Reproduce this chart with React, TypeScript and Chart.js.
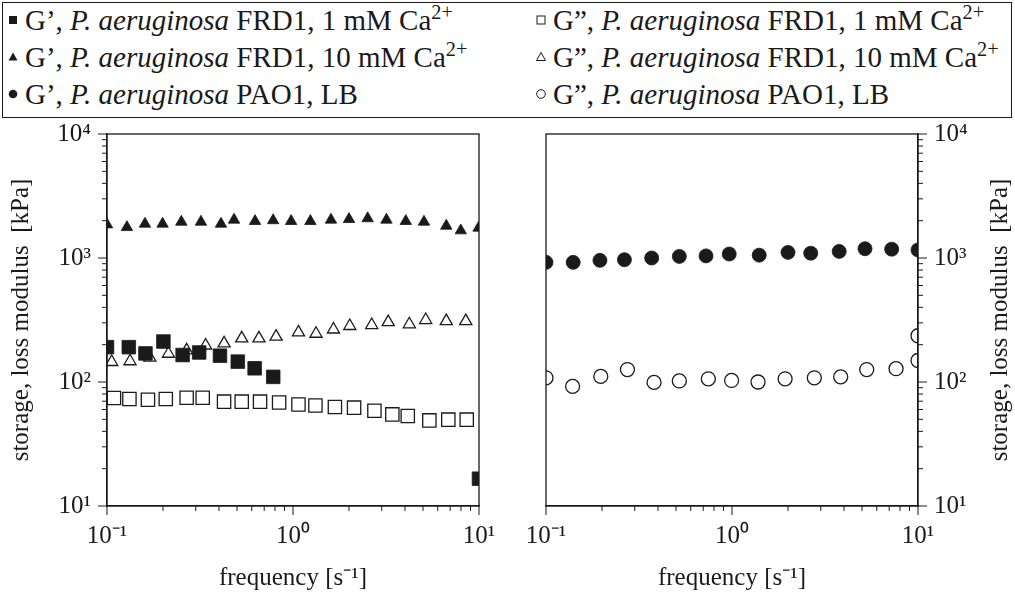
import React, { useEffect, useRef } from "react";
import { Chart, registerables } from "chart.js";
Chart.register(...registerables);

const FONT = "'Liberation Serif', 'Times New Roman', serif";
const INK = "#1a1a1a";

// ---------------- data (frequency in s^-1, modulus in kPa) ----------------
const frd1_1mM_Gp_freq = [0.1, 0.131, 0.161, 0.201, 0.255, 0.313, 0.405, 0.505, 0.622, 0.783, 10];
const frd1_1mM_Gp = [191, 191, 170, 212, 165, 173, 163, 146, 129, 110, 16.6];

const frd1_1mM_Gpp_freq = [0.109, 0.132, 0.166, 0.207, 0.268, 0.327, 0.426, 0.53, 0.665, 0.842, 1.07, 1.32, 1.68, 2.13, 2.74, 3.42, 4.14, 5.41, 6.84, 8.59];
const frd1_1mM_Gpp = [74.3, 72.9, 72, 72.9, 74.7, 74.7, 69.4, 69.4, 69.4, 68.4, 65.9, 64.7, 62.8, 62.1, 58.7, 54.8, 53.2, 49.0, 49.7, 49.7];

const frd1_10mM_Gp_freq = [0.1, 0.128, 0.16, 0.199, 0.251, 0.32, 0.41, 0.482, 0.625, 0.782, 0.977, 1.24, 1.6, 2.0, 2.52, 3.18, 4.04, 5.06, 6.67, 7.98, 9.95];
const frd1_10mM_Gp = [1860, 1770, 1885, 1885, 1955, 1955, 1885, 2030, 1980, 2010, 1980, 1980, 2030, 2055, 2085, 2030, 1980, 1955, 1815, 1665, 1750];

const frd1_10mM_Gpp_freq = [0.106, 0.133, 0.17, 0.214, 0.268, 0.339, 0.426, 0.53, 0.656, 0.811, 1.07, 1.33, 1.65, 2.02, 2.65, 3.25, 4.22, 5.17, 6.67, 8.49];
const frd1_10mM_Gpp = [145, 147, 157, 169, 180, 197, 205, 225, 225, 232, 251, 245, 265, 283, 288, 304, 292, 316, 310, 310];

const pao1_Gp_freq = [0.1, 0.14, 0.195, 0.264, 0.37, 0.521, 0.725, 0.966, 1.4, 2.0, 2.65, 3.77, 5.19, 7.22, 10];
const pao1_Gp = [922, 922, 957, 969, 1000, 1030, 1040, 1077, 1054, 1110, 1093, 1130, 1188, 1178, 1161];

const pao1_Gpp_freq = [0.1, 0.139, 0.197, 0.274, 0.381, 0.521, 0.746, 0.995, 1.38, 1.93, 2.77, 3.84, 5.3, 7.62, 10, 10];
const pao1_Gpp = [108, 92.2, 111, 126, 99.3, 102, 106, 103, 100, 106, 108, 110, 126, 128, 149, 236];

// ---------------- axes ----------------
const X_TICKS = [0.1, 0.2, 0.3, 0.4, 0.5, 0.6, 0.7, 0.8, 0.9, 1, 2, 3, 4, 5, 6, 7, 8, 9, 10];
const X_MAJOR = [0.1, 1, 10];
const X_MAJOR_LABELS = ["10⁻¹", "10⁰", "10¹"];
const Y_TICKS = [10, 20, 30, 40, 50, 60, 70, 80, 90, 100, 200, 300, 400, 500, 600, 700, 800, 900, 1000, 2000, 3000, 4000, 5000, 6000, 7000, 8000, 9000, 10000];
const Y_MAJOR = [10, 100, 1000, 10000];
const Y_MAJOR_LABELS = ["10¹", "10²", "10³", "10⁴"];
const X_TITLE = "frequency [s⁻¹]";
const Y_TITLE = "storage, loss modulus  [kPa]";

// ---------------- series names ----------------
const NAMES = [
  "G’, P. aeruginosa FRD1, 1 mM Ca2+",
  "G”, P. aeruginosa FRD1, 1 mM Ca2+",
  "G’, P. aeruginosa FRD1, 10 mM Ca2+",
  "G”, P. aeruginosa FRD1, 10 mM Ca2+",
  "G’, P. aeruginosa PAO1, LB",
  "G”, P. aeruginosa PAO1, LB",
];

const pts = (xs: number[], ys: number[]) => xs.map((x, i) => ({ x, y: ys[i] }));
const sameLog = (a: number, b: number) => Math.abs(Math.log10(a) - Math.log10(b)) < 1e-6;
const majorIndex = (v: number, majors: number[]) => majors.findIndex((m) => sameLog(v, m));

const filled = (label: string, data: any, style: string, r: number) => ({
  label, data, pointStyle: style, pointRadius: r, pointHoverRadius: r,
  backgroundColor: INK, borderColor: INK, borderWidth: 0.8, showLine: false,
});
const hollow = (label: string, data: any, style: string, r: number) => ({
  label, data, pointStyle: style, pointRadius: r, pointHoverRadius: r,
  backgroundColor: "rgba(255,255,255,0)", borderColor: INK, borderWidth: 1.3, showLine: false,
});

const framePlugin = {
  id: "frameTicks",
  afterDraw(chart: any) {
    const { ctx, chartArea: a, scales } = chart;
    ctx.save();
    ctx.strokeStyle = INK;
    ctx.lineWidth = 1.3;
    ctx.strokeRect(a.left, a.top, a.right - a.left, a.bottom - a.top);
    ctx.lineWidth = 1;
    const xs = scales.x;
    xs.ticks.forEach((t: any) => {
      const px = xs.getPixelForValue(t.value);
      const len = majorIndex(t.value, X_MAJOR) >= 0 ? 9 : 5;
      ctx.beginPath();
      ctx.moveTo(px, a.bottom);
      ctx.lineTo(px, a.bottom + len);
      ctx.stroke();
    });
    const ys = scales.y;
    const right = ys.position === "right";
    ys.ticks.forEach((t: any) => {
      const py = ys.getPixelForValue(t.value);
      const len = majorIndex(t.value, Y_MAJOR) >= 0 ? 9 : 5;
      const x0 = right ? a.right : a.left;
      ctx.beginPath();
      ctx.moveTo(x0, py);
      ctx.lineTo(right ? x0 + len : x0 - len, py);
      ctx.stroke();
    });
    const rt = chart.options.plugins.rightTitle;
    if (rt && rt.text) {
      ctx.fillStyle = INK;
      ctx.font = `25px ${FONT}`;
      ctx.textAlign = "center";
      ctx.textBaseline = "middle";
      ctx.translate(rt.x, (a.top + a.bottom) / 2);
      ctx.rotate(-Math.PI / 2);
      ctx.fillText(rt.text, 0, 0);
    }
    ctx.restore();
  },
};

function makeConfig(side: "left" | "right", datasets: any[]) {
  const isLeft = side === "left";
  const tickFont = { family: FONT, size: 25 };
  return {
    type: "scatter",
    data: { datasets },
    plugins: [framePlugin],
    options: {
      animation: false,
      responsive: false,
      maintainAspectRatio: false,
      events: [],
      layout: { padding: isLeft ? { left: 0, top: 24, right: 41, bottom: 0 } : { left: 26, top: 24, right: 0, bottom: 0 } },
      plugins: {
        legend: { display: false },
        tooltip: { enabled: false },
        rightTitle: isLeft ? null : { text: Y_TITLE, x: 480 },
      },
      scales: {
        x: {
          type: "logarithmic",
          min: 0.1,
          max: 10,
          position: "bottom",
          afterBuildTicks: (s: any) => { s.ticks = X_TICKS.map((v) => ({ value: v, major: majorIndex(v, X_MAJOR) >= 0 })); },
          afterFit: (s: any) => { s.height = 89; },
          ticks: {
            autoSkip: false,
            maxRotation: 0,
            minRotation: 0,
            padding: 3,
            color: INK,
            font: tickFont,
            callback: (v: number) => { const i = majorIndex(v, X_MAJOR); return i >= 0 ? X_MAJOR_LABELS[i] : ""; },
          },
          grid: { drawOnChartArea: false, drawTicks: true, tickLength: 12, tickColor: "rgba(0,0,0,0)" },
          border: { display: true, color: INK, width: 1.3 },
          title: { display: true, text: X_TITLE, color: INK, font: { family: FONT, size: 25 }, padding: { top: 0, bottom: 2 } },
        },
        y: {
          type: "logarithmic",
          min: 10,
          max: 10000,
          position: isLeft ? "left" : "right",
          afterBuildTicks: (s: any) => { s.ticks = Y_TICKS.map((v) => ({ value: v, major: majorIndex(v, Y_MAJOR) >= 0 })); },
          afterFit: (s: any) => { s.width = isLeft ? 107 : 97; },
          ticks: {
            autoSkip: false,
            padding: 8,
            color: INK,
            font: tickFont,
            callback: (v: number) => { const i = majorIndex(v, Y_MAJOR); return i >= 0 ? Y_MAJOR_LABELS[i] : ""; },
          },
          grid: { drawOnChartArea: false, drawTicks: true, tickLength: 8, tickColor: "rgba(0,0,0,0)" },
          border: { display: true, color: INK, width: 1.3 },
          title: { display: isLeft, text: Y_TITLE, color: INK, font: { family: FONT, size: 25 }, padding: { top: 6, bottom: 0 } },
        },
      },
    },
  } as any;
}

function Panel({ side, left, width }: { side: "left" | "right"; left: number; width: number }) {
  const ref = useRef<HTMLCanvasElement>(null);
  useEffect(() => {
    const datasets =
      side === "left"
        ? [
            filled(NAMES[0], pts(frd1_1mM_Gp_freq, frd1_1mM_Gp), "rect", 9.6),
            hollow(NAMES[1], pts(frd1_1mM_Gpp_freq, frd1_1mM_Gpp), "rect", 9.4),
            filled(NAMES[2], pts(frd1_10mM_Gp_freq, frd1_10mM_Gp), "triangle", 6.6),
            hollow(NAMES[3], pts(frd1_10mM_Gpp_freq, frd1_10mM_Gpp), "triangle", 7),
          ]
        : [
            filled(NAMES[4], pts(pao1_Gp_freq, pao1_Gp), "circle", 7),
            hollow(NAMES[5], pts(pao1_Gpp_freq, pao1_Gpp), "circle", 7),
          ];
    const chart = new Chart(ref.current as HTMLCanvasElement, makeConfig(side, datasets));
    return () => chart.destroy();
  }, [side]);
  return (
    <canvas
      ref={ref}
      width={width}
      height={485}
      style={{ position: "absolute", left, top: 110, width, height: 485 }}
    />
  );
}

type Marker = { style: "rect" | "triangle" | "circle"; fill: boolean };
const LEGEND_MARKERS: Marker[] = [
  { style: "rect", fill: true },
  { style: "rect", fill: false },
  { style: "triangle", fill: true },
  { style: "triangle", fill: false },
  { style: "circle", fill: true },
  { style: "circle", fill: false },
];

function MarkerIcon({ m }: { m: Marker }) {
  const fill = m.fill ? INK : "none";
  const sw = m.fill ? 0 : 1;
  let shape: any = null;
  if (m.style === "rect") shape = <rect x={2} y={2} width={8} height={8} fill={fill} stroke={INK} strokeWidth={sw} />;
  if (m.style === "triangle") shape = <polygon points="6,1.5 10.5,9.5 1.5,9.5" fill={fill} stroke={INK} strokeWidth={sw} />;
  if (m.style === "circle") shape = <circle cx={6} cy={6} r={4.3} fill={fill} stroke={INK} strokeWidth={sw} />;
  return (
    <svg width={12} height={12} style={{ position: "absolute", left: -6, top: -6, overflow: "visible" }}>
      {shape}
    </svg>
  );
}

function LegendLabel({ name }: { name: string }) {
  // name like: G’, P. aeruginosa FRD1, 1 mM Ca2+
  const head = name.slice(0, 4);
  const rest = name.slice(4 + "P. aeruginosa".length + 1);
  const m = rest.match(/^(.*Ca)(2\+)$/);
  return (
    <span>
      {head}
      <i>P. aeruginosa</i>
      {" "}
      {m ? (
        <>
          {m[1]}
          <span style={{ fontSize: "0.7em", position: "relative", top: "-0.55em" }}>{m[2]}</span>
        </>
      ) : (
        rest
      )}
    </span>
  );
}

function Legend() {
  const rows = [20, 57, 94];
  const markerX = [13, 541];
  const textX = [25, 553];
  return (
    <>
      <div
        style={{
          position: "absolute",
          left: 2,
          top: 2,
          width: 1010,
          height: 116,
          boxSizing: "border-box",
          border: `1.3px solid ${INK}`,
        }}
      />
      {NAMES.map((name, i) => {
        const col = i % 2;
        const row = Math.floor(i / 2);
        return (
          <React.Fragment key={i}>
            <div style={{ position: "absolute", left: markerX[col], top: rows[row] }}>
              <MarkerIcon m={LEGEND_MARKERS[i]} />
            </div>
            <div
              style={{
                position: "absolute",
                left: textX[col],
                top: rows[row] - 17,
                height: 34,
                lineHeight: "34px",
                fontFamily: FONT,
                fontSize: 29,
                color: INK,
                whiteSpace: "pre",
              }}
            >
              <LegendLabel name={name} />
            </div>
          </React.Fragment>
        );
      })}
    </>
  );
}

export default function App() {
  return (
    <div style={{ position: "absolute", left: 0, top: 0, width: 1015, height: 595, background: "#fff", overflow: "hidden" }}>
      <Legend />
      <Panel side="left" left={0} width={520} />
      <Panel side="right" left={520} width={495} />
    </div>
  );
}
